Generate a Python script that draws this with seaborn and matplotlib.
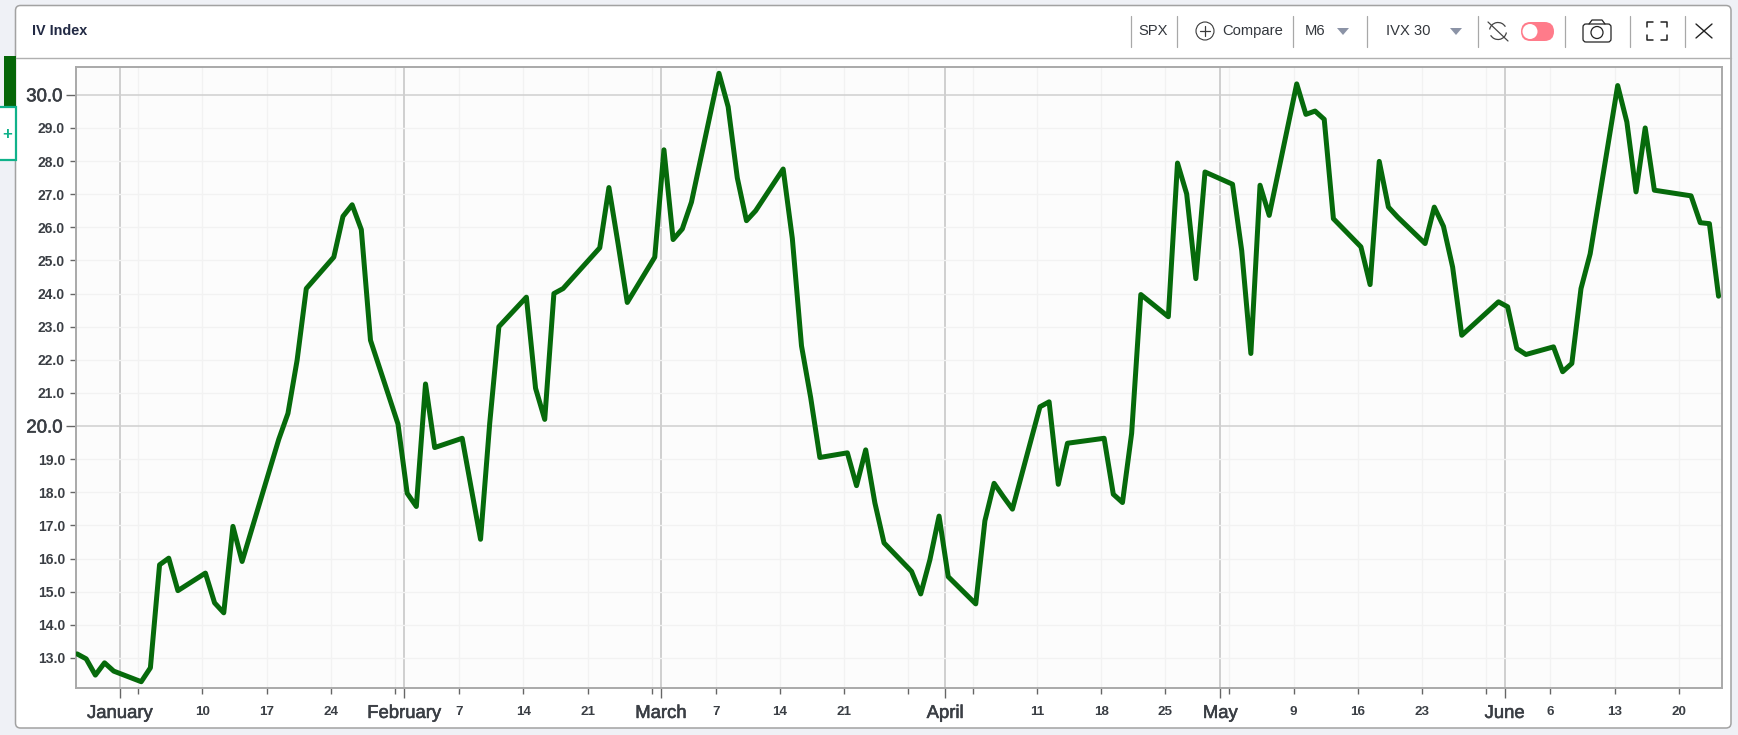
"""Recreates the SPX IVX 30 "IV Index" chart window."""

import matplotlib
matplotlib.use("Agg")
import matplotlib.pyplot as plt
import matplotlib.patches as mpatches
import matplotlib.patheffects as pe
import pandas as pd
import seaborn as sns

# ── Data ──────────────────────────────────────────────────────────────────
holidays = ["2022-01-17", "2022-02-21", "2022-04-15", "2022-05-30", "2022-06-20"]

dec_iv = [13.12, 12.97, 12.48, 12.85, 12.60]
jan_iv = [12.28, 12.70, 15.81, 16.01, 15.03, 15.56, 14.66, 14.36, 16.97, 15.91,
          19.60, 20.38, 21.99, 24.15, 25.10, 26.33, 26.68, 25.93, 22.59, 20.06]
feb_iv = [17.97, 17.57, 21.27, 19.35, 19.63, 18.10, 16.58, 20.08, 23.00, 23.89,
          21.14, 20.20, 24.00, 24.15, 25.38, 27.20, 25.50, 23.73, 25.10]
mar_iv = [28.34, 25.63, 25.95, 26.76, 30.65, 29.64, 27.49, 26.20, 26.50, 27.76,
          25.66, 22.42, 20.86, 19.05, 19.19, 18.20, 19.28, 17.68, 16.47, 15.61,
          14.93, 15.96, 17.28]
apr_iv = [15.45, 14.63, 17.14, 18.27, 17.87, 17.49, 20.58, 20.73, 18.24, 19.48,
          19.63, 17.94, 17.69, 19.78, 23.97, 23.30, 27.94, 27.01, 24.45, 27.67]
may_iv = [27.30, 25.30, 22.19, 27.27, 26.36, 30.33, 29.41, 29.51, 29.26, 26.26,
          25.41, 24.27, 27.99, 26.61, 26.31, 25.51, 26.61, 26.03, 24.80, 22.74, 23.75]
jun_iv = [23.60, 22.34, 22.16, 22.39, 21.64, 21.89, 24.15, 25.20, 30.28, 29.18,
          27.07, 29.00, 27.12, 26.95, 26.14, 26.11, 23.92]

month_starts = ["2022-01-01", "2022-02-01", "2022-03-01", "2022-04-01", "2022-05-01", "2022-06-01"]
month_labels = ["January", "February", "March", "April", "May", "June"]
week_ticks = ["2022-01-03", "2022-01-10", "2022-01-17", "2022-01-24", "2022-01-31",
              "2022-02-07", "2022-02-14", "2022-02-21", "2022-02-28",
              "2022-03-07", "2022-03-14", "2022-03-21", "2022-03-28",
              "2022-04-04", "2022-04-11", "2022-04-18", "2022-04-25",
              "2022-05-02", "2022-05-09", "2022-05-16", "2022-05-23", "2022-05-30",
              "2022-06-06", "2022-06-13", "2022-06-20"]
week_labels = ["", "10", "17", "24", "",
               "7", "14", "21", "",
               "7", "14", "21", "",
               "", "11", "18", "25",
               "", "9", "16", "23", "",
               "6", "13", "20"]
major_y = [20, 30]
minor_y = [13, 14, 15, 16, 17, 18, 19, 21, 22, 23, 24, 25, 26, 27, 28, 29]

W, H = 1738, 735
GREEN = "#066a0b"
TEAL = "#10b28a"
INK = "#3a3e44"
RULE = "#a9a9a9"

sns.set_theme(style="white")
plt.rcParams["font.family"] = ["Liberation Sans", "DejaVu Sans"]

fig = plt.figure(figsize=(W / 100, H / 100), dpi=100, facecolor="#eff1f6")

# ── Window chrome, drawn in pixel coordinates ─────────────────────────────
bg = fig.add_axes([0, 0, 1, 1], zorder=0)
bg.set_xlim(0, W)
bg.set_ylim(H, 0)
bg.axis("off")

bg.add_patch(mpatches.FancyBboxPatch((15.5, 5.5), 1715.5, 722.5,
                                     boxstyle="round,pad=0,rounding_size=5",
                                     fc="white", ec="#a2a2a2", lw=1.1))
bg.add_patch(mpatches.Rectangle((4, 56), 11.5, 50, fc="#056608", ec="none"))
bg.add_patch(mpatches.Rectangle((-2, 107), 17.5, 53, fc="white", ec=TEAL, lw=1.6))
bg.text(7, 134, "+", color=TEAL, fontsize=12, fontweight="bold", ha="center", va="center")
bg.plot([16, 1731], [57.5, 57.5], color="#b0b0b0", lw=1)

bg.text(32, 31, "IV Index", color="#222a44", fontsize=10.4, fontweight="bold", va="center")
for label, x in [("SPX", 1153), ("Compare", 1252.5), ("M6", 1315.5), ("IVX 30", 1408)]:
    bg.text(x, 31, label, color="#33373d", fontsize=10.6, ha="center", va="center")
for x in [1130.5, 1177, 1293, 1366.5, 1478, 1564.5, 1630, 1684.5]:
    bg.plot([x, x], [16, 47], color="#a8a8a8", lw=0.9)

# circled plus
bg.add_patch(mpatches.Circle((1205, 31), 9, fc="none", ec="#3a3a3a", lw=0.8))
bg.plot([1200, 1210], [31, 31], color="#3a3a3a", lw=0.9)
bg.plot([1205, 1205], [26, 36], color="#3a3a3a", lw=0.9)

# dropdown arrows
for x in [1343, 1456]:
    bg.add_patch(mpatches.Polygon([(x - 6, 28), (x + 6, 28), (x, 35)], fc="#8b93a6", ec="none"))

# sync-off icon
bg.add_patch(mpatches.Arc((1498, 31), 17, 17, theta1=190, theta2=330, ec="#444444", lw=0.9))
bg.add_patch(mpatches.Arc((1498, 31), 17, 17, theta1=10, theta2=150, ec="#444444", lw=0.9))
bg.plot([1488, 1508], [22, 41], color="#444444", lw=0.9)

# toggle
bg.add_patch(mpatches.FancyBboxPatch((1521, 22), 33, 19,
                                     boxstyle="round,pad=0,rounding_size=9.5",
                                     fc="#ff7b8a", ec="none"))
bg.add_patch(mpatches.Circle((1530, 31.5), 7.5, fc="white", ec="none"))

# camera
bg.add_patch(mpatches.FancyBboxPatch((1583, 24), 28, 18,
                                     boxstyle="round,pad=0,rounding_size=3",
                                     fc="none", ec="#222222", lw=0.9))
bg.plot([1589, 1592, 1602, 1605], [24, 20, 20, 24], color="#222222", lw=0.9)
bg.add_patch(mpatches.Circle((1597, 32.5), 6, fc="none", ec="#222222", lw=0.9))

# fullscreen corners
for cx, cy, dx, dy in [(1647, 22, 1, 1), (1667, 22, -1, 1), (1647, 40, 1, -1), (1667, 40, -1, -1)]:
    bg.plot([cx + 6 * dx, cx, cx], [cy, cy, cy + 5 * dy], color="#222222", lw=1.1)

# close
bg.plot([1696, 1712], [24, 38], color="#222222", lw=1)
bg.plot([1696, 1712], [38, 24], color="#222222", lw=1)

# ── Chart ─────────────────────────────────────────────────────────────────
L, R, T, B = 75.5, 1722, 67, 688
ax = fig.add_axes([L / W, 1 - B / H, (R - L) / W, (B - T) / H], zorder=1)
ax.set_facecolor("#fcfcfc")

days = pd.bdate_range("2021-12-27", "2022-06-24")
days = days[~days.isin(pd.to_datetime(holidays))]
iv = dec_iv + jan_iv + feb_iv + mar_iv + apr_iv + may_iv + jun_iv
df = pd.DataFrame({"date": days + pd.Timedelta(hours=8), "iv": iv})

sns.lineplot(data=df, x="date", y="iv", ax=ax, color=GREEN, linewidth=3.6,
             errorbar=None, solid_joinstyle="round", zorder=3)

ax.set_xlim(pd.Timestamp("2021-12-27 04:00"), pd.Timestamp("2022-06-24 17:00"))
ax.set_ylim(12.09, 30.84)
ax.set_xlabel("")
ax.set_ylabel("")

ax.set_xticks(pd.to_datetime(month_starts))
ax.set_xticklabels(month_labels, fontsize=13.3, color=INK)
ax.set_xticks(pd.to_datetime(week_ticks), minor=True)
ax.set_xticklabels(week_labels, minor=True, fontsize=9.6, color=INK, fontweight="bold")
ax.set_yticks(major_y)
ax.set_yticklabels(["20.0", "30.0"], fontsize=13.4, color=INK)
ax.set_yticks(minor_y, minor=True)
ax.set_yticklabels([f"{v:.1f}" for v in minor_y], minor=True, fontsize=10, color=INK, fontweight="bold")

# month names and the two big y labels look slightly heavier than regular
for label in ax.get_xticklabels() + ax.get_yticklabels():
    label.set_path_effects([pe.withStroke(linewidth=0.4, foreground=INK)])

ax.tick_params(axis="x", which="major", bottom=True, length=7.2, width=1, color="#666666", pad=5)
ax.tick_params(axis="x", which="minor", bottom=True, length=4.3, width=1, color="#666666", pad=8.5)
ax.tick_params(axis="y", which="major", left=True, length=7.2, width=1, color="#666666", pad=2)
ax.tick_params(axis="y", which="minor", left=True, length=4.6, width=1, color="#666666", pad=3)

ax.grid(True, which="major", axis="x", color="#cfcfcf", lw=1.4)
ax.grid(True, which="major", axis="y", color="#cfcfcf", lw=1.1)
ax.grid(True, which="minor", color="#f2f2f2", lw=1)
ax.set_axisbelow(True)

for spine in ax.spines.values():
    spine.set_visible(True)
    spine.set_color(RULE)
    spine.set_linewidth(1.4)

fig.savefig("out.png", dpi=100, facecolor=fig.get_facecolor())
